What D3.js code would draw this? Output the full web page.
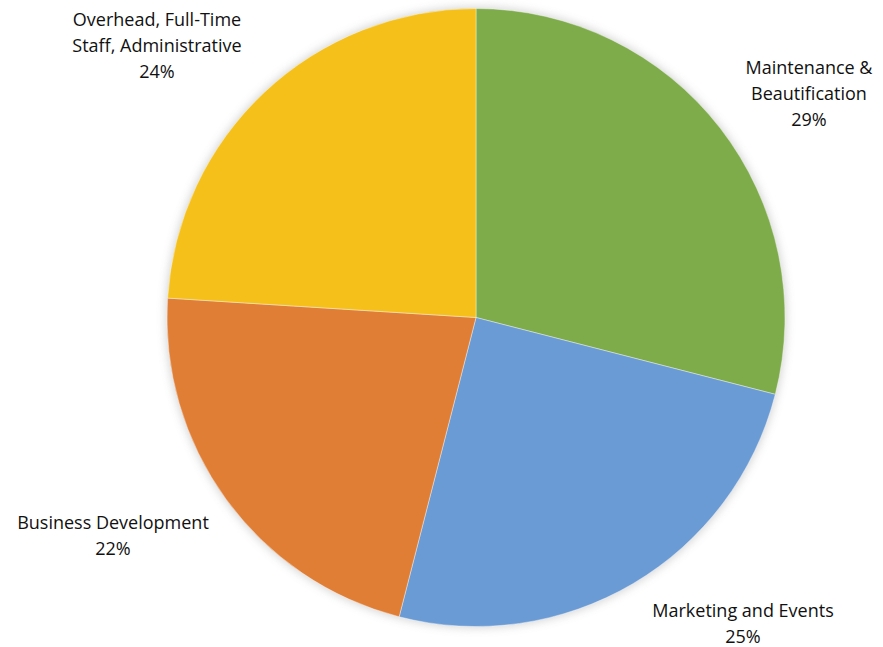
<!DOCTYPE html>
<html>
<head>
<meta charset="utf-8">
<script src="https://cdn.jsdelivr.net/npm/d3@7"></script>
<style>
  html, body { margin: 0; padding: 0; background: #fff; }
  svg { display: block; }
  text { font-family: "Open Sans", "Noto Sans", sans-serif; fill: #111; }
</style>
</head>
<body>
<svg id="chart" width="883" height="647"></svg>
<script>
// Budget allocation by category
const categories = [
  ["Maintenance &", "Beautification"],
  ["Marketing and Events"],
  ["Business Development"],
  ["Overhead, Full-Time", "Staff, Administrative"]
];
const shares = [29, 25, 22, 24];
const colors = ["#7eac4b", "#6a9bd5", "#e07e35", "#f4c019"];

// label anchor points (centre of the first line's baseline)
const labelAnchors = [[809, 74], [743, 617], [113, 529], [157, 26]];

const cx = 476, cy = 317.5, R = 309;
const lineH = 26;

const svg = d3.select("#chart");

const defs = svg.append("defs");
const f = defs.append("filter").attr("id", "soft")
  .attr("x", "-10%").attr("y", "-10%").attr("width", "120%").attr("height", "120%");
f.append("feGaussianBlur").attr("stdDeviation", 5);

const g = svg.append("g").attr("transform", `translate(${cx},${cy})`);

// soft shadow around the disc
g.append("circle").attr("r", R + 1)
  .attr("fill", "#9a9a9a").attr("opacity", 0.45)
  .attr("filter", "url(#soft)");

const pie = d3.pie().sort(null).value(d => d);
const arcs = pie(shares);
const arc = d3.arc().innerRadius(0).outerRadius(R);

g.selectAll("path.slice").data(arcs).join("path")
  .attr("class", "slice")
  .attr("d", arc)
  .attr("fill", (d, i) => colors[i])
  .attr("stroke", "#ffffff")
  .attr("stroke-opacity", 0.5)
  .attr("stroke-width", 0.8);

const fmt = d3.format(".0%");
const total = d3.sum(shares);

const labels = svg.selectAll("text.lbl").data(arcs).join("text")
  .attr("class", "lbl")
  .attr("text-anchor", "middle")
  .attr("font-size", 18)
  .attr("font-weight", 500)
  .attr("x", (d, i) => labelAnchors[i][0])
  .attr("y", (d, i) => labelAnchors[i][1]);

labels.each(function(d, i) {
  const t = d3.select(this);
  const lines = categories[i].concat([fmt(d.value / total)]);
  lines.forEach((s, k) => {
    t.append("tspan")
      .attr("x", labelAnchors[i][0])
      .attr("dy", k === 0 ? 0 : lineH)
      .text(s);
  });
});
</script>
</body>
</html>
